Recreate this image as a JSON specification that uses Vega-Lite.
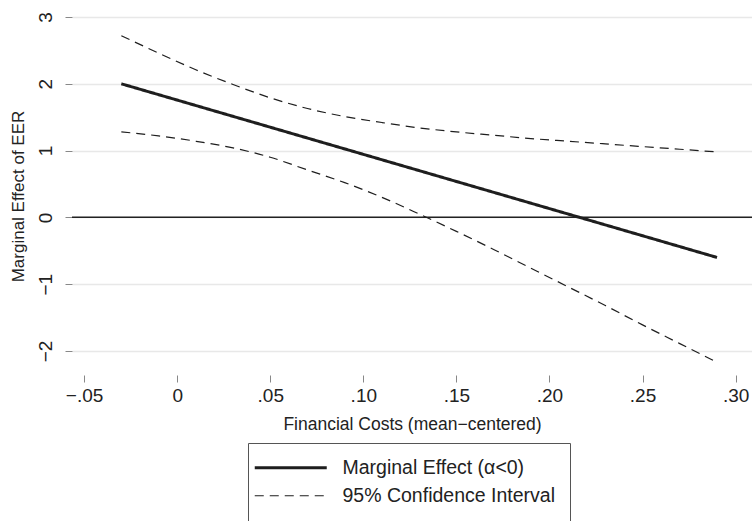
{
  "$schema": "https://vega.github.io/schema/vega-lite/v6.json",
  "width": 680,
  "height": 358,
  "autosize": {"type": "none"},
  "padding": {"left": 72, "top": 17, "right": 0, "bottom": 146},
  "background": "white",
  "config": {
    "view": {"stroke": null},
    "font": "Liberation Sans"
  },
  "layer": [
    {
      "data": {"values": [{}]},
      "mark": {"type": "rule", "color": "#222222", "strokeWidth": 1.5},
      "encoding": {"y": {"datum": 0, "type": "quantitative", "scale": {"domain": [-2.36, 3.0], "nice": false, "zero": false}}}
    },
    {
      "data": {"values": [
        {"x": -0.03, "y": 2.0, "line": "ME", "series": "Marginal Effect (α<0)"},
        {"x": 0.29, "y": -0.6, "line": "ME", "series": "Marginal Effect (α<0)"},
        {"x": -0.03, "y": 2.72, "line": "upper", "series": "95% Confidence Interval"},
        {"x": -0.01, "y": 2.46, "line": "upper", "series": "95% Confidence Interval"},
        {"x": 0.01, "y": 2.21, "line": "upper", "series": "95% Confidence Interval"},
        {"x": 0.03, "y": 1.99, "line": "upper", "series": "95% Confidence Interval"},
        {"x": 0.05, "y": 1.79, "line": "upper", "series": "95% Confidence Interval"},
        {"x": 0.07, "y": 1.63, "line": "upper", "series": "95% Confidence Interval"},
        {"x": 0.09, "y": 1.51, "line": "upper", "series": "95% Confidence Interval"},
        {"x": 0.11, "y": 1.42, "line": "upper", "series": "95% Confidence Interval"},
        {"x": 0.13, "y": 1.34, "line": "upper", "series": "95% Confidence Interval"},
        {"x": 0.15, "y": 1.28, "line": "upper", "series": "95% Confidence Interval"},
        {"x": 0.17, "y": 1.23, "line": "upper", "series": "95% Confidence Interval"},
        {"x": 0.19, "y": 1.18, "line": "upper", "series": "95% Confidence Interval"},
        {"x": 0.21, "y": 1.14, "line": "upper", "series": "95% Confidence Interval"},
        {"x": 0.23, "y": 1.10, "line": "upper", "series": "95% Confidence Interval"},
        {"x": 0.25, "y": 1.06, "line": "upper", "series": "95% Confidence Interval"},
        {"x": 0.27, "y": 1.02, "line": "upper", "series": "95% Confidence Interval"},
        {"x": 0.29, "y": 0.98, "line": "upper", "series": "95% Confidence Interval"},
        {"x": -0.03, "y": 1.28, "line": "lower", "series": "95% Confidence Interval"},
        {"x": -0.01, "y": 1.22, "line": "lower", "series": "95% Confidence Interval"},
        {"x": 0.01, "y": 1.14, "line": "lower", "series": "95% Confidence Interval"},
        {"x": 0.03, "y": 1.04, "line": "lower", "series": "95% Confidence Interval"},
        {"x": 0.05, "y": 0.90, "line": "lower", "series": "95% Confidence Interval"},
        {"x": 0.07, "y": 0.71, "line": "lower", "series": "95% Confidence Interval"},
        {"x": 0.09, "y": 0.52, "line": "lower", "series": "95% Confidence Interval"},
        {"x": 0.11, "y": 0.30, "line": "lower", "series": "95% Confidence Interval"},
        {"x": 0.13, "y": 0.05, "line": "lower", "series": "95% Confidence Interval"},
        {"x": 0.15, "y": -0.21, "line": "lower", "series": "95% Confidence Interval"},
        {"x": 0.17, "y": -0.48, "line": "lower", "series": "95% Confidence Interval"},
        {"x": 0.19, "y": -0.76, "line": "lower", "series": "95% Confidence Interval"},
        {"x": 0.21, "y": -1.04, "line": "lower", "series": "95% Confidence Interval"},
        {"x": 0.23, "y": -1.32, "line": "lower", "series": "95% Confidence Interval"},
        {"x": 0.25, "y": -1.61, "line": "lower", "series": "95% Confidence Interval"},
        {"x": 0.27, "y": -1.89, "line": "lower", "series": "95% Confidence Interval"},
        {"x": 0.29, "y": -2.17, "line": "lower", "series": "95% Confidence Interval"}
      ]},
      "mark": {"type": "line", "interpolate": "monotone", "color": "#1e1e1e"},
      "encoding": {
        "x": {
          "field": "x", "type": "quantitative",
          "scale": {"domain": [-0.0565, 0.3088], "nice": false, "zero": false},
          "axis": {
            "values": [-0.05, 0, 0.05, 0.1, 0.15, 0.2, 0.25, 0.3],
            "labelExpr": "datum.value == 0 ? '0' : (datum.value < 0 ? '−' : '') + replace(format(abs(datum.value), '.2f'), '0.', '.')",
            "domain": false, "grid": false,
            "tickSize": 7, "tickColor": "#888888", "tickWidth": 1,
            "labelFontSize": 19, "labelColor": "#222222", "labelPadding": 4, "labelFont": "Liberation Sans",
            "title": "Financial Costs (mean−centered)",
            "titleFontSize": 17.5, "titleFontWeight": "normal", "titleColor": "#222222", "titleFont": "Liberation Sans", "titlePadding": 10
          }
        },
        "y": {
          "field": "y", "type": "quantitative",
          "scale": {"domain": [-2.36, 3.0], "nice": false, "zero": false},
          "axis": {
            "values": [-2, -1, 0, 1, 2, 3],
            "labelExpr": "datum.value < 0 ? '−' + abs(datum.value) : '' + datum.value",
            "labelAngle": -90, "labelAlign": "center", "labelBaseline": "bottom",
            "domain": false, "grid": true, "gridColor": "#e8e8e8", "gridWidth": 1.5,
            "tickSize": 7, "tickColor": "#888888", "tickWidth": 1,
            "labelFontSize": 19, "labelColor": "#222222", "labelPadding": 10, "labelFont": "Liberation Sans",
            "title": "Marginal Effect of EER",
            "titleFontSize": 17, "titleFontWeight": "normal", "titleColor": "#222222", "titleFont": "Liberation Sans", "titlePadding": 9
          }
        },
        "detail": {"field": "line"},
        "strokeDash": {
          "field": "series", "type": "nominal",
          "scale": {"domain": ["Marginal Effect (α<0)", "95% Confidence Interval"], "range": [[1, 0], [9, 6]]},
          "legend": {
            "title": " ", "titleOrient": "bottom", "titleFontSize": 12, "titlePadding": 6,
            "orient": "none", "legendX": 176, "legendY": 426,
            "direction": "vertical",
            "strokeColor": "#555555", "fillColor": "white",
            "padding": 15,
            "symbolType": "M-4,0H4", "symbolSize": 324,
            "symbolOffset": 18,
            "symbolStrokeColor": "#1e1e1e", "symbolFillColor": "transparent",
            "labelFontSize": 19.5, "labelColor": "#222222", "labelFont": "Liberation Sans", "labelOffset": 42,
            "labelLimit": 400, "rowPadding": 7,
            "encode": {"symbols": {"update": {"strokeWidth": {"signal": "datum.value == 'Marginal Effect (α<0)' ? 3 : 1.2"}}}}
          }
        },
        "strokeWidth": {"condition": {"test": "datum.line == 'ME'", "value": 3}, "value": 1.2}
      }
    }
  ]
}
